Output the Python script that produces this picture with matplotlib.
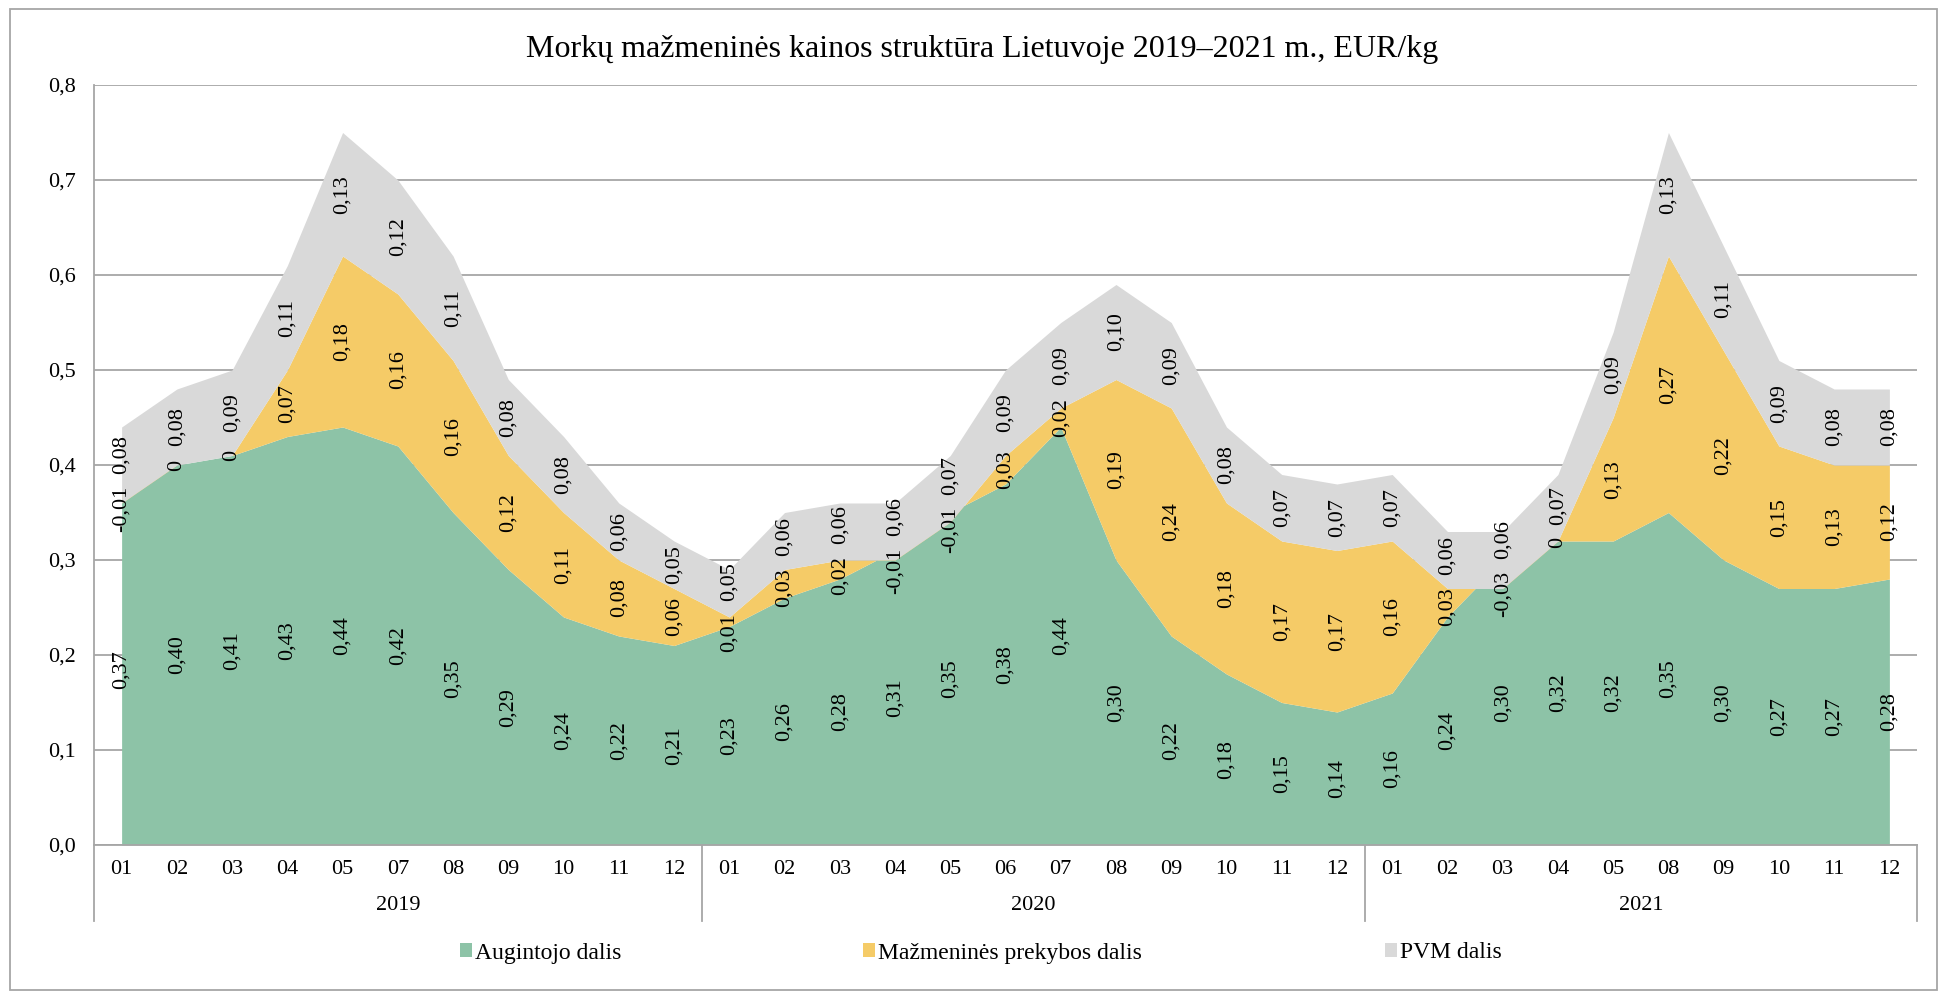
import numpy as np
import matplotlib
matplotlib.use("Agg")
import matplotlib.pyplot as plt
from matplotlib.patches import Patch, Rectangle

plt.rcParams['font.family'] = ['Liberation Serif', 'DejaVu Serif']

# duomenys
years = ['2019', '2020', '2021']
months_2019 = ['01', '02', '03', '04', '05', '07', '08', '09', '10', '11', '12']
months_2020 = ['01', '02', '03', '04', '05', '06', '07', '08', '09', '10', '11', '12']
months_2021 = ['01', '02', '03', '04', '05', '08', '09', '10', '11', '12']

augintojo = [0.37, 0.40, 0.41, 0.43, 0.44, 0.42, 0.35, 0.29, 0.24, 0.22, 0.21,
             0.23, 0.26, 0.28, 0.31, 0.35, 0.38, 0.44, 0.30, 0.22, 0.18, 0.15, 0.14,
             0.16, 0.24, 0.30, 0.32, 0.32, 0.35, 0.30, 0.27, 0.27, 0.28]
mazmenines = [-0.01, 0.00, 0.00, 0.07, 0.18, 0.16, 0.16, 0.12, 0.11, 0.08, 0.06,
              0.01, 0.03, 0.02, -0.01, -0.01, 0.03, 0.02, 0.19, 0.24, 0.18, 0.17, 0.17,
              0.16, 0.03, -0.03, 0.00, 0.13, 0.27, 0.22, 0.15, 0.13, 0.12]
pvm = [0.08, 0.08, 0.09, 0.11, 0.13, 0.12, 0.11, 0.08, 0.08, 0.06, 0.05,
       0.05, 0.06, 0.06, 0.06, 0.07, 0.09, 0.09, 0.10, 0.09, 0.08, 0.07, 0.07,
       0.07, 0.06, 0.06, 0.07, 0.09, 0.13, 0.11, 0.09, 0.08, 0.08]

series_names = ['Augintojo dalis', 'Mažmeninės prekybos dalis', 'PVM dalis']
colors = ['#8DC3A7', '#F5CB67', '#D9D9D9']
grid_c = '#A6A6A6'

months = months_2019 + months_2020 + months_2021
groups = [months_2019, months_2020, months_2021]
x = np.arange(len(months))
g = np.array(augintojo)
o = np.array(mazmenines)
p = np.array(pvm)
c1 = g
c2 = g + o
c3 = c2 + p


def fmt(v):
    if round(v, 2) == 0:
        return '0'
    return f'{v:.2f}'.replace('.', ',')


W, H = 1939, 992
fig = plt.figure(figsize=(W / 100, H / 100), dpi=100)
ax_l, ax_r, ax_t, ax_b = 94, 1917, 85, 845
ax = fig.add_axes([ax_l / W, 1 - ax_b / H, (ax_r - ax_l) / W, (ax_b - ax_t) / H])

ax.fill_between(x, 0, c1, color=colors[0], lw=0, zorder=2)
ax.fill_between(x, c1, c2, color=colors[1], lw=0, zorder=2)
ax.fill_between(x, c2, c3, color=colors[2], lw=0, zorder=2)

# etiketės, pastumiamos jei persidengia
lab_fs = 16
em = lab_fs * 100 / 72
px = 0.8 / (ax_b - ax_t)
cw = {'0': 0.5, '1': 0.5, '2': 0.5, '3': 0.5, '4': 0.5, '5': 0.5, '6': 0.5,
      '7': 0.5, '8': 0.5, '9': 0.5, ',': 0.25, '-': 0.333}
gap = 12
for i in x:
    txt = [fmt(g[i]), fmt(o[i]), fmt(p[i])]
    ys = [c1[i] / 2, c1[i] + o[i] / 2, c2[i] + p[i] / 2]
    hl = [sum(cw[c] for c in t) * em / 2 * px for t in txt]
    for _ in range(10):
        for k in range(2):
            need = hl[k] + hl[k + 1] + gap * px
            d = ys[k + 1] - ys[k]
            if d < need:
                ys[k] -= (need - d) / 2
                ys[k + 1] += (need - d) / 2
    for t, yy in zip(txt, ys):
        ax.text(i, yy, t, rotation=90, ha='center', va='center',
                fontsize=lab_fs, zorder=5)

ax.set_xlim(-0.5, len(months) - 0.5)
ax.set_ylim(0, 0.8)
ax.set_yticks(np.arange(0, 0.81, 0.1))
ax.set_yticklabels([f'{v:.1f}'.replace('.', ',') for v in np.arange(0, 0.81, 0.1)])
ax.yaxis.grid(True, color=grid_c, lw=1.3, zorder=0)
ax.set_axisbelow(True)
ax.set_xticks(x)
ax.set_xticklabels(months)
ax.tick_params(axis='y', length=0, pad=13, labelsize=16)
ax.tick_params(axis='x', length=0, pad=11, labelsize=16)
for s in ['top', 'right', 'left']:
    ax.spines[s].set_visible(False)
ax.spines['bottom'].set_color(grid_c)
ax.spines['bottom'].set_linewidth(1.3)

# metų grupės
low = -(921 - ax_b) / (ax_b - ax_t)
trans = ax.get_xaxis_transform()
ax.plot([-0.5, -0.5], [1, low], color=grid_c, lw=1.3, transform=trans, clip_on=False, zorder=6)
start = 0
for yr, grp in zip(years, groups):
    end = start + len(grp)
    ax.plot([end - 0.5, end - 0.5], [0, low], color=grid_c, lw=1.3, transform=trans,
            clip_on=False)
    ax.text((start + end - 1) / 2, -(906 - ax_b) / (ax_b - ax_t), yr, transform=trans,
            ha='center', va='center', fontsize=16)
    start = end

fig.text(982 / W, 1 - 49 / H, 'Morkų mažmeninės kainos struktūra Lietuvoje 2019–2021 m., EUR/kg',
         ha='center', va='center', fontsize=23)

# legenda
for name, col, lx in zip(series_names, colors, [460, 863, 1385]):
    fig.legend(handles=[Patch(facecolor=col, edgecolor='none')], labels=[name],
               loc='center left', bbox_to_anchor=(lx / W, 1 - 953 / H), frameon=False,
               fontsize=17, handlelength=0.5, handleheight=0.5, handletextpad=0.15,
               borderpad=0, borderaxespad=0)

fig.patches.append(Rectangle((10 / W, 1 - 990 / H), (1937 - 10) / W, (990 - 9) / H,
                             transform=fig.transFigure, fill=False, edgecolor=grid_c, lw=1.3))

fig.savefig('out.png', dpi=100, facecolor='white')
